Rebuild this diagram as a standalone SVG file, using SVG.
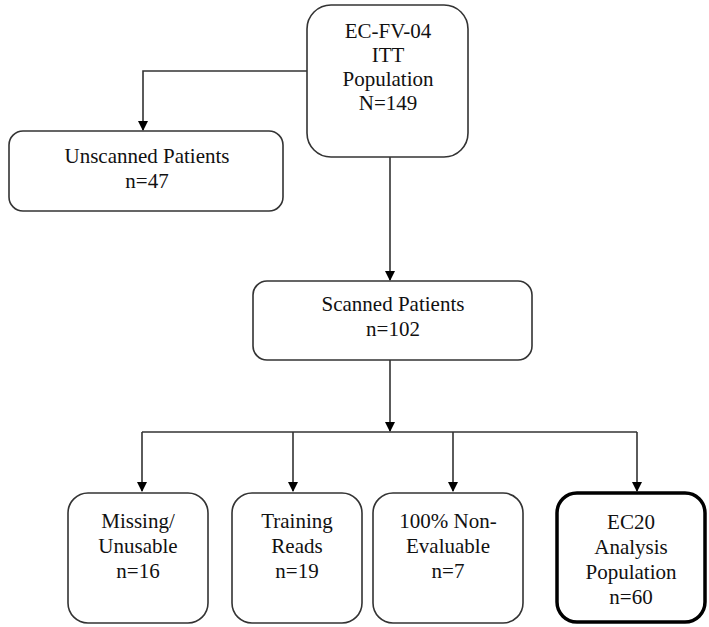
<svg xmlns="http://www.w3.org/2000/svg" width="709" height="627" viewBox="0 0 709 627">
<defs>
<style>
.box{fill:#fff;stroke:#333;stroke-width:1.6}
.bold{fill:#fff;stroke:#000;stroke-width:3.5}
.t{font-family:"Liberation Serif","Times New Roman",serif;font-size:21px;fill:#111;text-anchor:middle}
.c{fill:none;stroke:#333;stroke-width:1.6}
</style>
<marker id="ah" markerWidth="10" markerHeight="10" refX="9" refY="5" orient="auto" markerUnits="userSpaceOnUse" viewBox="0 0 10 10">
<path d="M0,0 L10,5 L0,10 z" fill="#000"/>
</marker>
</defs>
<rect width="709" height="627" fill="#fff"/>
<g id="connectors">
<path class="c" d="M307,71 H143 V130" marker-end="url(#ah)"/>
<path class="c" d="M390,157 V280" marker-end="url(#ah)"/>
<path class="c" d="M390,360 V431" marker-end="url(#ah)"/>
<path class="c" d="M142,432 H637"/>
<path class="c" d="M142,432 V491" marker-end="url(#ah)"/>
<path class="c" d="M293,432 V491" marker-end="url(#ah)"/>
<path class="c" d="M453,432 V491" marker-end="url(#ah)"/>
<path class="c" d="M637,432 V491" marker-end="url(#ah)"/>
</g>
<g id="itt">
<rect class="box" x="307" y="5" width="161" height="152" rx="24"/>
<text class="t" x="388" y="38">EC-FV-04</text>
<text class="t" x="388" y="62">ITT</text>
<text class="t" x="388" y="86">Population</text>
<text class="t" x="388" y="110">N=149</text>
</g>
<g id="unscanned">
<rect class="box" x="9" y="131" width="274" height="80" rx="14"/>
<text class="t" x="147" y="163">Unscanned Patients</text>
<text class="t" x="147" y="188">n=47</text>
</g>
<g id="scanned">
<rect class="box" x="253" y="281" width="279" height="79" rx="14"/>
<text class="t" x="393" y="311">Scanned Patients</text>
<text class="t" x="393" y="336">n=102</text>
</g>
<g id="missing">
<rect class="box" x="68" y="493" width="140" height="130" rx="20"/>
<text class="t" x="138" y="528">Missing/</text>
<text class="t" x="138" y="553">Unusable</text>
<text class="t" x="138" y="578">n=16</text>
</g>
<g id="training">
<rect class="box" x="232" y="493" width="130" height="130" rx="20"/>
<text class="t" x="297" y="528">Training</text>
<text class="t" x="297" y="553">Reads</text>
<text class="t" x="297" y="578">n=19</text>
</g>
<g id="nonevaluable">
<rect class="box" x="373" y="493" width="150" height="130" rx="20"/>
<text class="t" x="448" y="528">100% Non-</text>
<text class="t" x="448" y="553">Evaluable</text>
<text class="t" x="448" y="578">n=7</text>
</g>
<g id="ec20">
<rect class="bold" x="557" y="493" width="148" height="129" rx="20"/>
<text class="t" x="631" y="529">EC20</text>
<text class="t" x="631" y="554">Analysis</text>
<text class="t" x="631" y="579">Population</text>
<text class="t" x="631" y="604">n=60</text>
</g>
</svg>
